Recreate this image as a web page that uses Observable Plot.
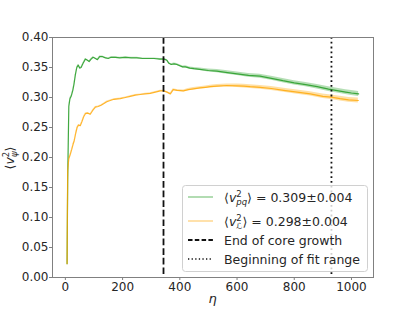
<!DOCTYPE html>
<html><head><meta charset="utf-8">
<script src="https://cdn.jsdelivr.net/npm/d3@7"></script>
<script src="https://cdn.jsdelivr.net/npm/@observablehq/plot@0.6"></script>
<style>
body{margin:0;background:#fff;}
#chart svg{display:block;}
</style></head><body><div id="chart"></div>
<script>
// ---- data ----
const etaPQ = [6,8,12,16,21,26,30,35,40,45,50,55,62,70,77,83,90,97,105,112,120,130,140,150,160,175,190,210,230,250,270,290,310,330,345,355,362,370,380,390,400,410,420,435,450,470,500,530,560,600,640,680,720,760,800,840,880,920,950,980,1000,1025];
const vPQ = [0.023,0.16,0.285,0.298,0.303,0.312,0.322,0.338,0.350,0.354,
  0.349,0.350,0.357,0.364,0.362,0.360,0.364,0.367,0.365,0.363,
  0.368,0.368,0.366,0.365,0.367,0.367,0.366,0.367,0.366,0.366,
  0.365,0.365,0.365,0.364,0.364,0.362,0.357,0.355,0.356,0.355,
  0.353,0.351,0.351,0.349,0.348,0.347,0.345,0.344,0.342,0.3395,
  0.337,0.3355,0.332,0.328,0.3245,0.3215,0.318,0.314,0.3115,0.309,
  0.3075,0.306];
const errPQ = [0.0015,0.0015,0.0015,0.0015,0.0012,0.0012,0.0012,0.0012,0.0012,0.0012,
  0.001,0.001,0.001,0.001,0.001,0.001,0.001,0.001,0.001,0.001,
  0.001,0.001,0.001,0.001,0.001,0.001,0.001,0.001,0.001,0.001,
  0.001,0.001,0.001,0.001,
  0.0012,0.0012,0.0013,0.0013,0.0014,0.0015,0.0016,0.0017,0.0018,0.0019,
  0.002,0.0022,0.0024,0.0026,0.0028,0.003,0.0032,0.0033,0.0034,0.0035,
  0.0036,0.0037,0.0038,0.0039,0.004,0.004,0.0041,0.0042];

const etaL = [6,7,8,12,17,22,27,31,36,41,46,52,58,64,70,78,87,95,105,115,125,135,145,157,170,192,210,227,245,262,280,297,315,332,343,355,367,377,390,413,430,448,470,490,507,530,565,600,623,646,681,720,763,810,856,900,929,960,990,1024];
const vL = [0.023,0.10,0.178,0.198,0.205,0.213,0.222,0.228,0.240,0.250,
  0.254,0.253,0.260,0.268,0.273,0.274,0.272,0.278,0.284,0.285,
  0.287,0.290,0.293,0.295,0.297,0.298,0.300,0.302,0.304,0.305,
  0.306,0.307,0.309,0.311,0.311,0.309,0.306,0.313,0.312,0.311,
  0.313,0.3145,0.316,0.317,0.318,0.319,0.320,0.3195,0.319,0.318,
  0.317,0.315,0.312,0.309,0.306,0.302,0.3005,0.298,0.296,0.295];
const errL = [0.0015,0.0015,0.0015,0.0015,0.0012,0.0012,0.0012,0.0012,0.0012,0.0012,
  0.001,0.001,0.001,0.001,0.001,0.001,0.001,0.001,0.001,0.001,
  0.001,0.001,0.001,0.001,0.001,0.001,0.001,0.001,0.001,0.001,
  0.001,0.001,0.001,0.001,
  0.0012,0.0012,0.0013,0.0014,0.0015,0.0017,0.0018,0.002,0.0021,0.0022,
  0.0023,0.0025,0.0027,0.0029,0.003,0.0031,0.0032,0.0033,0.0034,0.0035,
  0.0036,0.0037,0.0038,0.0039,0.004,0.004];

const coreGrowthEnd = [343];
const fitStart = [930];
const xTicks = [0,200,400,600,800,1000];
const yTicks = [0,0.05,0.10,0.15,0.20,0.25,0.30,0.35,0.40];
const fitPQ = "0.309±0.004";
const fitL = "0.298±0.004";
const legendText = ["End of core growth", "Beginning of fit range"];

// ---- build tables ----
const pq = etaPQ.map((e,i)=>({eta:e, v:vPQ[i], lo:vPQ[i]-errPQ[i], hi:vPQ[i]+errPQ[i]}));
const lv = etaL.map((e,i)=>({eta:e, v:vL[i], lo:vL[i]-errL[i], hi:vL[i]+errL[i]}));

const GREEN = "#2ca02c", ORANGE = "#ffa500", INK = "#262626", SPINE = "#808080";

const chart = Plot.plot({
  width: 415, height: 312,
  marginLeft: 52, marginRight: 42, marginTop: 37, marginBottom: 35,
  style: {fontFamily: "DejaVu Sans, sans-serif", fontSize: "12px", color: INK, background: "white"},
  x: {domain: [-45, 1077]},
  y: {domain: [0, 0.4]},
  marks: [
    Plot.areaY(pq, {x:"eta", y1:"lo", y2:"hi", fill:GREEN, fillOpacity:0.35}),
    Plot.areaY(lv, {x:"eta", y1:"lo", y2:"hi", fill:ORANGE, fillOpacity:0.35}),
    Plot.line(pq, {x:"eta", y:"v", stroke:GREEN, strokeWidth:1.2, strokeOpacity:0.9}),
    Plot.line(lv, {x:"eta", y:"v", stroke:ORANGE, strokeWidth:1.2, strokeOpacity:0.8}),
    Plot.ruleX(coreGrowthEnd, {stroke:"#111", strokeWidth:1.8, strokeDasharray:"6.7,2.9"}),
    Plot.ruleX(fitStart, {stroke:"#111", strokeWidth:1.8, strokeDasharray:"1.8,3"}),
    Plot.frame({stroke: SPINE, strokeWidth: 1}),
    Plot.axisX({ticks: xTicks, tickSize: 3, tickPadding: 2, tickFormat: d3.format("d"), label: null, stroke: SPINE, fill: INK}),
    Plot.axisY({ticks: yTicks, tickSize: 3, tickPadding: 1, tickFormat: d3.format(".2f"), label: null, stroke: SPINE, fill: INK})
  ]
});
document.getElementById("chart").appendChild(chart);

const svg = d3.select(chart);
const FS = 12.5;

function mathBracket(t, sub) {
  t.append("tspan").text("⟨");
  t.append("tspan").attr("font-style","italic").text("v");
  t.append("tspan").attr("font-size", 8.5).attr("dy", -5).text("2");
  t.append("tspan").attr("font-size", 8.5).attr("font-style","italic").attr("dx", -5.4).attr("dy", 8).text(sub);
  t.append("tspan").attr("dy", -3).text("⟩");
  return t;
}

// y label
const yl = svg.append("text")
  .attr("transform", "translate(14,158) rotate(-90)")
  .attr("text-anchor", "middle")
  .attr("font-family", "DejaVu Sans, sans-serif")
  .attr("font-size", FS).attr("fill", INK);
mathBracket(yl, "ψ");

// x label
svg.append("text").attr("x", 212.5).attr("y", 303)
  .attr("text-anchor","middle").attr("font-family","DejaVu Sans, sans-serif")
  .attr("font-style","italic").attr("font-size", 13).attr("fill", INK).text("η");

// legend
const lg = svg.append("g").attr("font-family","DejaVu Sans, sans-serif").attr("font-size", FS)
  .attr("fill", INK).attr("text-anchor","start");
lg.append("rect").attr("x",182.5).attr("y",185.5).attr("width",185).attr("height",86).attr("rx",3)
  .attr("fill","white").attr("fill-opacity",0.8).attr("stroke","#d0d0d0").attr("stroke-width",1);
const rows = [197, 221, 240, 259];
lg.append("line").attr("x1",188).attr("x2",213).attr("y1",rows[0]).attr("y2",rows[0]).attr("stroke",GREEN).attr("stroke-opacity",0.6).attr("stroke-width",1.2);
lg.append("line").attr("x1",188).attr("x2",213).attr("y1",rows[1]).attr("y2",rows[1]).attr("stroke",ORANGE).attr("stroke-opacity",0.55).attr("stroke-width",1.2);
lg.append("line").attr("x1",188).attr("x2",213).attr("y1",rows[2]).attr("y2",rows[2]).attr("stroke","#111").attr("stroke-width",1.8).attr("stroke-dasharray","4.5,2.3");
lg.append("line").attr("x1",188).attr("x2",213).attr("y1",rows[3]).attr("y2",rows[3]).attr("stroke","#111").attr("stroke-width",1.4).attr("stroke-dasharray","1.3,2.3");
const t1 = lg.append("text").attr("x",224).attr("y",rows[0]+4.5).attr("text-anchor","start");
mathBracket(t1, "pq"); t1.append("tspan").text(" = " + fitPQ);
const t2 = lg.append("text").attr("x",224).attr("y",rows[1]+4.5).attr("text-anchor","start");
mathBracket(t2, "ℒ"); t2.append("tspan").text(" = " + fitL);
lg.append("text").attr("x",224).attr("y",rows[2]+4.5).attr("text-anchor","start").text(legendText[0]);
lg.append("text").attr("x",224).attr("y",rows[3]+4.5).attr("text-anchor","start").text(legendText[1]);
</script></body></html>
